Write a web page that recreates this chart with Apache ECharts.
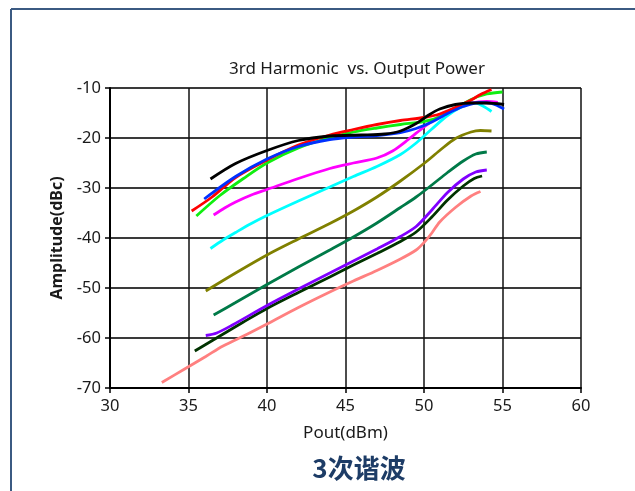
<!DOCTYPE html>
<html>
<head>
<meta charset="utf-8">
<script src="https://cdn.jsdelivr.net/npm/echarts/dist/echarts.min.js"></script>
<style>
  html, body { margin: 0; padding: 0; background: #fff; }
  #container { width: 635px; height: 491px; }
</style>
</head>
<body>
<div id="container"></div>
<script>
var dom = document.getElementById("container");
var myChart = echarts.init(dom);

// Pout (dBm), 3rd harmonic amplitude (dBc)
var black = [[36.4,-28.2],[38,-25.1],[40,-22.5],[42,-20.5],[44,-19.6],[46,-19.4],[47.5,-19.2],[48.5,-18.6],[49.5,-17.1],[50.3,-15.4],[51,-14.2],[52,-13.3],[53,-13.0],[54,-13.0],[55.1,-13.3]];
var blue = [[36,-32.2],[38,-27.7],[40,-24.2],[42,-21.7],[44,-20.3],[45.5,-19.8],[47,-19.5],[48.5,-18.9],[49.5,-18.1],[50.5,-16.8],[51.5,-15.1],[52.5,-13.7],[53.5,-12.9],[54.3,-13.1],[55.1,-14.2]];
var red = [[35.2,-34.6],[36.5,-31.8],[38,-27.9],[40,-24.4],[42,-21.4],[44,-19.4],[45.5,-18.3],[47,-17.3],[48.5,-16.5],[50,-15.9],[51,-15.2],[52,-13.9],[53,-12.4],[53.6,-11.3],[54.3,-10.3]];
var green = [[35.5,-35.6],[37,-31.5],[38.5,-28.1],[40,-25.0],[42,-22.0],[44,-19.9],[45.5,-18.8],[47,-18.0],[48.5,-17.3],[50,-16.7],[51,-15.8],[52,-14.1],[53,-12.3],[54,-11.2],[55,-10.8]];
var magenta = [[36.6,-35.4],[37.3,-34.0],[38,-32.8],[39,-31.4],[40,-30.3],[42,-28.1],[44,-26.1],[45.5,-25.0],[47,-24.0],[48,-22.6],[49,-20.3],[50,-17.8],[51,-15.6],[52,-14.0],[53,-13.0],[54,-12.7],[54.7,-12.9]];
var cyan = [[36.4,-42.1],[37.2,-40.4],[38,-38.9],[39,-37.1],[40,-35.5],[42,-32.6],[44,-29.8],[45.5,-27.7],[47,-25.7],[48.5,-23.3],[49.5,-21.0],[50.5,-18.2],[51.5,-15.5],[52.5,-13.6],[53.2,-12.9],[53.8,-13.7],[54.3,-14.7]];
var olive = [[36.1,-50.6],[38,-47.0],[40,-43.4],[42,-40.2],[44,-37.1],[45.5,-34.6],[47,-31.8],[48.5,-28.6],[50,-25.1],[51,-22.5],[52,-20.1],[53,-18.8],[53.6,-18.5],[54.3,-18.6]];
var teal = [[36.6,-55.4],[38,-52.9],[40,-49.3],[42,-45.8],[44,-42.4],[45.5,-39.8],[47,-37.0],[48.5,-33.9],[49.5,-31.8],[50.5,-29.4],[51.5,-26.9],[52.5,-24.6],[53.3,-23.2],[54,-22.8]];
var purple = [[36.1,-59.5],[36.8,-59.0],[37.8,-57.4],[40,-53.5],[42,-50.2],[44,-47.0],[45.5,-44.6],[47,-42.2],[48.5,-39.7],[49.5,-37.7],[50.5,-34.4],[51.5,-30.9],[52.5,-28.2],[53.3,-26.8],[54,-26.4]];
var darkGreen = [[35.4,-62.6],[37,-59.6],[38.5,-56.8],[40,-54.1],[42,-50.9],[44,-47.8],[45.5,-45.4],[47,-43.1],[48.5,-40.7],[49.5,-38.8],[50.5,-35.8],[51.5,-32.4],[52.5,-29.6],[53.2,-28.1],[53.7,-27.6]];
var salmon = [[33.3,-68.9],[34.7,-66.3],[36.1,-63.7],[37.2,-61.6],[38.7,-59.3],[40,-57.2],[42,-53.9],[44,-50.8],[45.5,-48.6],[47,-46.5],[48.5,-44.2],[49.5,-42.4],[50,-40.9],[50.5,-39.0],[51,-36.8],[52,-33.9],[53,-31.6],[53.6,-30.7]];

var curves = [black, blue, red, green, magenta, cyan, olive, teal, purple, darkGreen, salmon];
var colors = ['#000000', '#0030ff', '#ff0000', '#10ee10', '#ff00ff', '#00ffff', '#808000', '#007a48', '#8000ff', '#003300', '#ff8080'];

var font = "'Noto Sans', sans-serif";

var option = {
  animation: false,
  backgroundColor: '#ffffff',
  grid: { left: 110, top: 88, width: 471, height: 300, containLabel: false },
  xAxis: {
    type: 'value', min: 30, max: 60, interval: 5,
    name: 'Pout(dBm)', nameLocation: 'middle', nameGap: 37,
    nameTextStyle: { color: '#1a1a1a', fontSize: 17, fontFamily: font },
    axisLine: { onZero: false, lineStyle: { color: '#000', width: 2 } },
    axisTick: { show: true, length: 5, lineStyle: { color: '#000', width: 1.5 } },
    axisLabel: { color: '#1a1a1a', fontSize: 16.5, fontFamily: font, margin: 10 },
    splitLine: { show: true, lineStyle: { color: '#111', width: 1.5 } }
  },
  yAxis: {
    type: 'value', min: -70, max: -10, interval: 10,
    name: 'Amplitude(dBc)', nameLocation: 'middle', nameGap: 44,
    nameTextStyle: { color: '#1a1a1a', fontSize: 16, fontWeight: 'bold', fontFamily: font },
    axisLine: { onZero: false, lineStyle: { color: '#000', width: 2 } },
    axisTick: { show: true, length: 5, lineStyle: { color: '#000', width: 1.5 } },
    axisLabel: { color: '#1a1a1a', fontSize: 16.5, fontFamily: font, margin: 9 },
    splitLine: { show: true, lineStyle: { color: '#3a3a3a', width: 2 } }
  },
  graphic: [
    { type: 'line', shape: { x1: 11, y1: 9, x2: 11, y2: 491 }, style: { stroke: '#3b5a82', lineWidth: 2 } },
    { type: 'line', shape: { x1: 11, y1: 9, x2: 635, y2: 9 }, style: { stroke: '#3b5a82', lineWidth: 2 } },
    { type: 'text', x: 357, y: 69, style: { text: '3rd Harmonic  vs. Output Power', fill: '#1a1a1a', font: "17px 'Noto Sans', sans-serif", align: 'center', verticalAlign: 'middle', textAlign: 'center', textVerticalAlign: 'middle' } },
    { type: 'text', x: 359, y: 468, style: { text: '3次谐波', fill: '#1d3c66', font: "bold 26px 'Noto Sans CJK SC', sans-serif", align: 'center', verticalAlign: 'middle', textAlign: 'center', textVerticalAlign: 'middle' } }
  ],
  series: curves.map(function (d, i) {
    return {
      type: 'line',
      data: d,
      smooth: 0.3,
      showSymbol: false,
      lineStyle: { color: colors[i], width: 2.8 },
      z: 20 - i
    };
  })
};

if (option && typeof option === 'object') {
    myChart.setOption(option);
}
</script>
</body>
</html>
